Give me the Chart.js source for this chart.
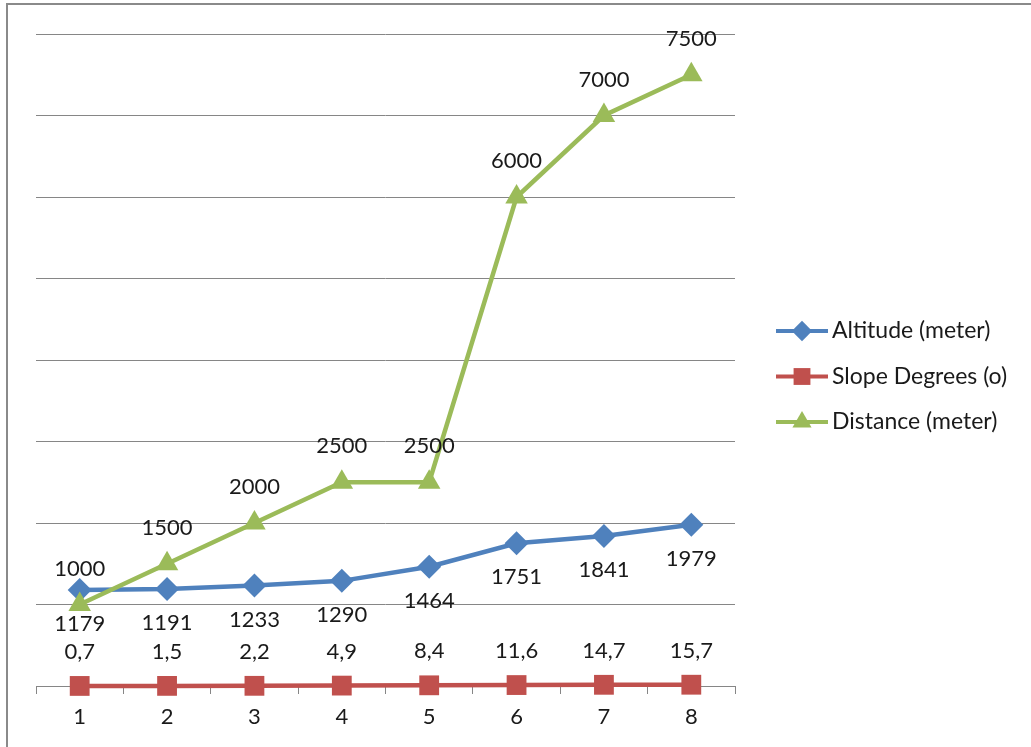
<!DOCTYPE html>
<html>
<head>
<meta charset="utf-8">
<script src="https://cdn.jsdelivr.net/npm/chart.js@4.4.1/dist/chart.umd.min.js"></script>
<style>
    html, body { margin: 0; padding: 0; background: #fff; }
    canvas { display: block; }
</style>
</head>
<body>
<canvas id="line-chart" width="1031" height="747"></canvas>
<script>
// categorias y series
const categories = ['1', '2', '3', '4', '5', '6', '7', '8'];
const altitude = [1179, 1191, 1233, 1290, 1464, 1751, 1841, 1979];
const slope = [0.7, 1.5, 2.2, 4.9, 8.4, 11.6, 14.7, 15.7];
const distance = [1000, 1500, 2000, 2500, 2500, 6000, 7000, 7500];
const seriesNames = ['Altitude (meter)', 'Slope Degrees (o)', 'Distance (meter)'];

const FONT = 'Lato, "Open Sans", sans-serif';
const GRID = '#868686';

// marco exterior (solo arriba e izquierda, como en la captura)
const framePlugin = {
    id: 'frame',
    beforeDraw(chart) {
        const ctx = chart.ctx;
        ctx.save();
        ctx.fillStyle = '#fff';
        ctx.fillRect(0, 0, chart.width, chart.height);
        ctx.strokeStyle = '#8a8a8a';
        ctx.lineWidth = 2;
        ctx.beginPath();
        ctx.moveTo(7, chart.height);
        ctx.lineTo(7, 4);
        ctx.lineTo(chart.width, 4);
        ctx.stroke();
        ctx.restore();
    }
};

// etiquetas de datos: arriba o abajo del punto segun la serie
const labelPlugin = {
    id: 'pointLabels',
    afterDatasetsDraw(chart) {
        const ctx = chart.ctx;
        ctx.save();
        ctx.font = '22px ' + FONT;
        ctx.fillStyle = '#1a1a1a';
        ctx.textAlign = 'center';
        ctx.textBaseline = 'middle';
        chart.data.datasets.forEach((ds, i) => {
            const meta = chart.getDatasetMeta(i);
            meta.data.forEach((pt, j) => {
                const txt = String(ds.data[j]).replace('.', ',');
                ctx.fillText(txt, pt.x, pt.y + ds.labelOffset);
            });
        });
        ctx.restore();
    }
};

// leyenda a la derecha con linea + marcador
const legendPlugin = {
    id: 'sideLegend',
    afterDraw(chart) {
        const ctx = chart.ctx;
        const x0 = 776, x1 = 828, top = 331, gap = 45.5;
        ctx.save();
        chart.data.datasets.forEach((ds, i) => {
            const y = top + i * gap;
            ctx.strokeStyle = ds.borderColor;
            ctx.lineWidth = 4;
            ctx.beginPath();
            ctx.moveTo(x0, y);
            ctx.lineTo(x1, y);
            ctx.stroke();
            ctx.fillStyle = ds.borderColor;
            Chart.helpers.drawPoint(ctx, {
                pointStyle: ds.pointStyle,
                radius: ds.pointRadius * 0.85,
                borderWidth: 0
            }, (x0 + x1) / 2, y);
            ctx.font = '23px ' + FONT;
            ctx.fillStyle = '#1a1a1a';
            ctx.textAlign = 'left';
            ctx.textBaseline = 'middle';
            ctx.fillText(seriesNames[i], 832, y);
        });
        ctx.restore();
    }
};

document.addEventListener('DOMContentLoaded', function () {
    const ctx = document.getElementById('line-chart').getContext('2d');
    new Chart(ctx, {
        type: 'line',
        data: {
            labels: categories,
            datasets: [{
                label: seriesNames[0],
                data: altitude,
                borderColor: '#4F81BD',
                backgroundColor: '#4F81BD',
                pointStyle: 'rectRot',
                pointRadius: 12,
                labelOffset: 34,
                order: 3
            }, {
                label: seriesNames[1],
                data: slope,
                borderColor: '#C0504D',
                backgroundColor: '#C0504D',
                pointStyle: 'rect',
                pointRadius: 14,
                labelOffset: -34,
                order: 2
            }, {
                label: seriesNames[2],
                data: distance,
                borderColor: '#9BBB59',
                backgroundColor: '#9BBB59',
                pointStyle: 'triangle',
                pointRadius: 13,
                labelOffset: -36,
                order: 1
            }]
        },
        options: {
            responsive: false,
            animation: false,
            elements: {
                line: { borderWidth: 4.5, tension: 0 },
                point: { borderWidth: 0, hoverRadius: 12 }
            },
            datasets: {
                line: { clip: false }
            },
            layout: {
                padding: { left: 36, right: 296, top: 34, bottom: 0 }
            },
            scales: {
                x: {
                    offset: true,
                    grid: {
                        offset: true,
                        drawOnChartArea: false,
                        drawTicks: true,
                        tickLength: 8,
                        color: GRID
                    },
                    border: { display: true, color: GRID, width: 1 },
                    ticks: {
                        padding: 10,
                        color: '#1a1a1a',
                        font: { family: FONT, size: 22 }
                    },
                    afterFit(scale) {
                        scale.height = 61;
                    }
                },
                y: {
                    min: 0,
                    max: 8000,
                    ticks: { display: false, stepSize: 1000 },
                    grid: { color: GRID, lineWidth: 1, drawTicks: false },
                    border: { display: false },
                    afterFit(scale) {
                        scale.width = 0;
                    }
                }
            },
            plugins: {
                legend: { display: false },
                tooltip: { enabled: false }
            }
        },
        plugins: [framePlugin, labelPlugin, legendPlugin]
    });
});
</script>
</body>
</html>
